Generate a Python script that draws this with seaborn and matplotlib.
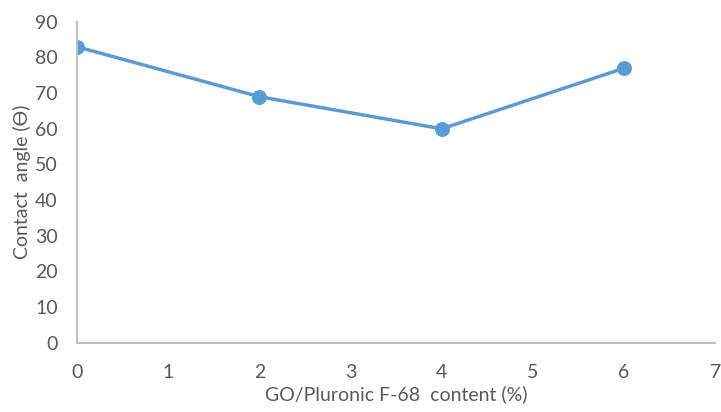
import pandas as pd
import matplotlib
matplotlib.use("Agg")
import matplotlib.pyplot as plt
import seaborn as sns

# data
content = [0, 2, 4, 6]
angle = [83, 69, 60, 77]
x_ticks = [0, 1, 2, 3, 4, 5, 6, 7]
y_ticks = [0, 10, 20, 30, 40, 50, 60, 70, 80, 90]

df = pd.DataFrame({"content": content, "angle": angle})

sns.set_style("white")
plt.rcParams['font.family'] = ['Lato', 'DejaVu Sans']

fig = plt.figure(figsize=(7.21, 4.12), dpi=100)
ax = fig.add_axes([0.107, 0.168, 0.885, 0.779])

sns.lineplot(data=df, x="content", y="angle", ax=ax, color="#5B9BD5",
             linewidth=2.5, marker="o", markersize=10, markeredgecolor="#5B9BD5")

ax.set_xlim(0, 7)
ax.set_ylim(0, 90)
ax.set_xticks(x_ticks)
ax.set_yticks(y_ticks)
ax.tick_params(axis="both", length=0, labelsize=14, labelcolor="#595959")
ax.tick_params(axis="x", pad=15)
ax.tick_params(axis="y", pad=14)

for s in ["top", "right"]:
    ax.spines[s].set_visible(False)
for s in ["left", "bottom"]:
    ax.spines[s].set_color("#BFBFBF")
    ax.spines[s].set_linewidth(1.5)

ax.set_xlabel("GO/Pluronic F-68  content (%)", fontsize=14, color="#595959", labelpad=3)
ax.set_ylabel("Contact  angle (Ɵ)", fontsize=14, color="#595959", labelpad=3)

fig.savefig("out.png", dpi=100)
